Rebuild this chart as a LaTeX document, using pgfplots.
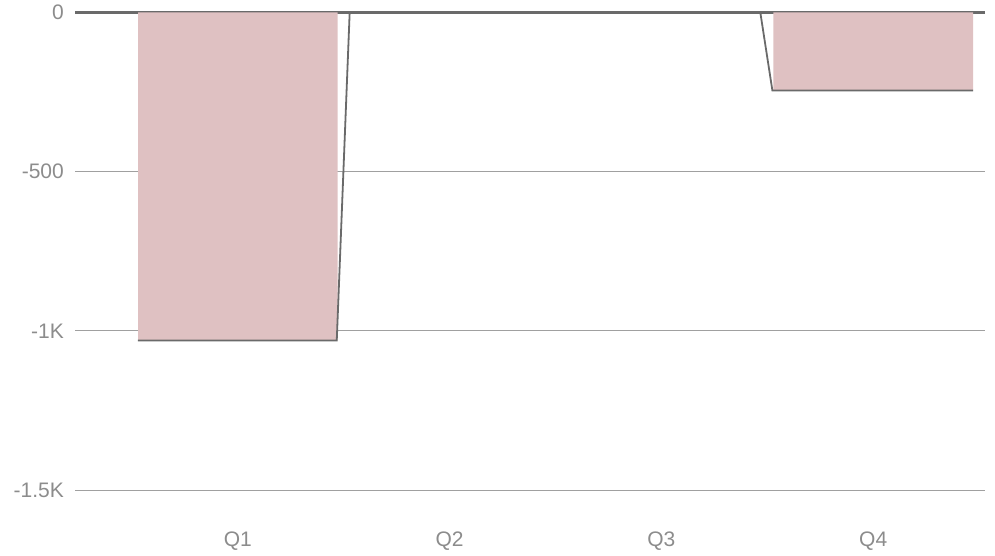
\documentclass[border=0pt]{standalone}
\usepackage{fontspec}
\setmainfont{Liberation Sans}
\usepackage{pgfplots}
\pgfplotsset{compat=1.18}
\definecolor{barfill}{HTML}{DFC1C2}
\definecolor{linegray}{HTML}{6A6A6A}
\definecolor{gridgray}{HTML}{A0A0A0}
\definecolor{labelgray}{HTML}{8C8C8C}
\begin{document}
\begin{tikzpicture}
\useasboundingbox (0,0) rectangle (995bp,556bp);
\begin{axis}[
    at={(75bp,34bp)}, anchor=south west,
    scale only axis,
    width=910bp, height=522bp,
    xmin=-0.769, xmax=3.528,
    ymin=-1600, ymax=39,
    axis line style={draw=none},
    major tick length=0pt,
    xtick={0,1,2,3},
    xticklabels={Q1,Q2,Q3,Q4},
    ytick={-1500,-1000,-500},
    yticklabels={-1.5K,-1K,-500},
    extra y ticks={0},
    extra y tick labels={0},
    extra y tick style={grid style={draw=linegray, line width=2.4bp}},
    ymajorgrids,
    grid style={draw=gridgray, line width=0.9bp},
    ticklabel style={font=\fontsize{21bp}{24bp}\selectfont, text=labelgray, inner sep=0pt},
    yticklabel style={anchor=east, xshift=-11bp},
    xticklabel style={anchor=north, yshift=-10bp},
    clip=false,
]
\addplot[ybar, bar width=0.943, bar shift=0, fill=barfill, draw=none]
    coordinates {(0,-1030) (1,0) (2,0) (3,-245)};
\addplot[sharp plot, no marks, draw=linegray, line width=1.8bp]
    coordinates {(-0.472,-1030) (0.467,-1030) (0.528,0) (1.467,0)
                 (1.528,0) (2.467,0) (2.524,-245) (3.472,-245)};
\end{axis}
\end{tikzpicture}
\end{document}
